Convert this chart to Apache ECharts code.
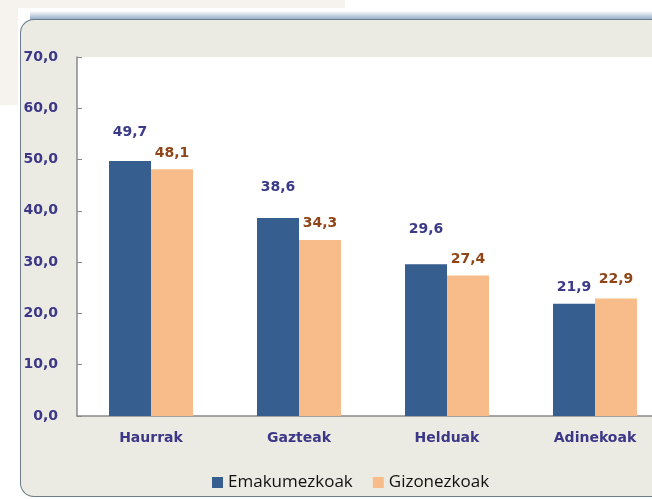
<!DOCTYPE html>
<html>
<head>
<meta charset="utf-8">
<script src="https://cdn.jsdelivr.net/npm/echarts@6/dist/echarts.min.js"></script>
<style>
  html, body { margin: 0; padding: 0; background: #ffffff; overflow: hidden; width: 652px; height: 499px; position: relative; }
  /* screenshot background: beige corner, bluish glow and the rounded frame that runs off the right edge */
  .beige1 { position: absolute; left: 0; top: 0; width: 345px; height: 8px; background: #f6f2ee; }
  .beige2 { position: absolute; left: 0; top: 0; width: 18px; height: 105px; background: #f6f2ee; }
  .glow { position: absolute; left: 30px; top: 11px; width: 700px; height: 9px;
          background: linear-gradient(to bottom, rgba(200,215,235,0), rgba(140,165,195,1)); }
  .panel { position: absolute; left: 20px; top: 19px; width: 760px; height: 476px;
           background: #ecebe3; border: 1.5px solid #6c7c8c; border-right: none;
           border-radius: 14px 0 0 14px; }
  #chart { position: absolute; left: 0; top: 0; width: 700px; height: 499px; }
</style>
</head>
<body>
<div class="beige1"></div>
<div class="beige2"></div>
<div class="glow"></div>
<div class="panel"></div>
<div id="chart"></div>
<script>
"use strict";

var categories = ['Haurrak', 'Gazteak', 'Helduak', 'Adinekoak'];
var women = [49.7, 38.6, 29.6, 21.9];
var men = [48.1, 34.3, 27.4, 22.9];
var seriesNames = ['Emakumezkoak', 'Gizonezkoak'];

var axisColor = '#3c3786';
// label gaps above the bars, the original places them by hand
var womenLabelGap = [22, 24, 28, 9];
var menLabelGap = [9, 10, 9, 12];

function fmt(v) {
    return v.toFixed(1).replace('.', ',');
}

function withGaps(values, gaps) {
    return values.map(function (v, i) {
        return { value: v, label: { distance: gaps[i] } };
    });
}

// the original is a screenshot cut off at the right, so the chart is wider than the window
var chart = echarts.init(document.getElementById('chart'), null, { renderer: 'canvas' });

var option = {
    backgroundColor: 'transparent',
    animation: false,
    grid: {
        left: 77,
        right: 31,
        top: 57,
        bottom: 83,
        show: true,
        backgroundColor: '#ffffff',
        borderWidth: 0
    },
    legend: {
        data: seriesNames,
        left: 207,
        top: 469,
        itemWidth: 11,
        itemHeight: 11,
        itemGap: 20,
        icon: 'rect',
        textStyle: {
            fontFamily: 'Open Sans',
            fontSize: 17,
            color: '#111111'
        }
    },
    xAxis: {
        type: 'category',
        data: categories,
        axisLine: { lineStyle: { color: '#8a8a8a', width: 1.5 } },
        axisTick: { show: false },
        axisLabel: {
            margin: 15,
            color: axisColor,
            fontFamily: 'DejaVu Sans',
            fontWeight: 'bold',
            fontSize: 14
        }
    },
    yAxis: {
        type: 'value',
        min: 0,
        max: 70,
        interval: 10,
        splitLine: { show: false },
        axisLine: { show: true, lineStyle: { color: '#8a8a8a', width: 1.5 } },
        axisTick: { show: true, inside: true, length: 5, lineStyle: { color: '#8a8a8a' } },
        axisLabel: {
            margin: 19,
            color: axisColor,
            fontFamily: 'DejaVu Sans',
            fontWeight: 'bold',
            fontSize: 14,
            formatter: function (v) { return fmt(v); }
        }
    },
    series: [{
        name: seriesNames[0],
        type: 'bar',
        data: withGaps(women, womenLabelGap),
        barWidth: 42,
        barGap: '0%',
        itemStyle: { color: '#365e8f' },
        label: {
            show: true,
            position: 'top',
            color: '#3b3a88',
            fontFamily: 'DejaVu Sans',
            fontWeight: 'bold',
            fontSize: 14,
            formatter: function (p) { return fmt(p.value); }
        }
    }, {
        name: seriesNames[1],
        type: 'bar',
        data: withGaps(men, menLabelGap),
        barWidth: 42,
        itemStyle: { color: '#f8bc8a' },
        label: {
            show: true,
            position: 'top',
            color: '#8e4518',
            fontFamily: 'DejaVu Sans',
            fontWeight: 'bold',
            fontSize: 14,
            formatter: function (p) { return fmt(p.value); }
        }
    }]
};

chart.setOption(option);
</script>
</body>
</html>
